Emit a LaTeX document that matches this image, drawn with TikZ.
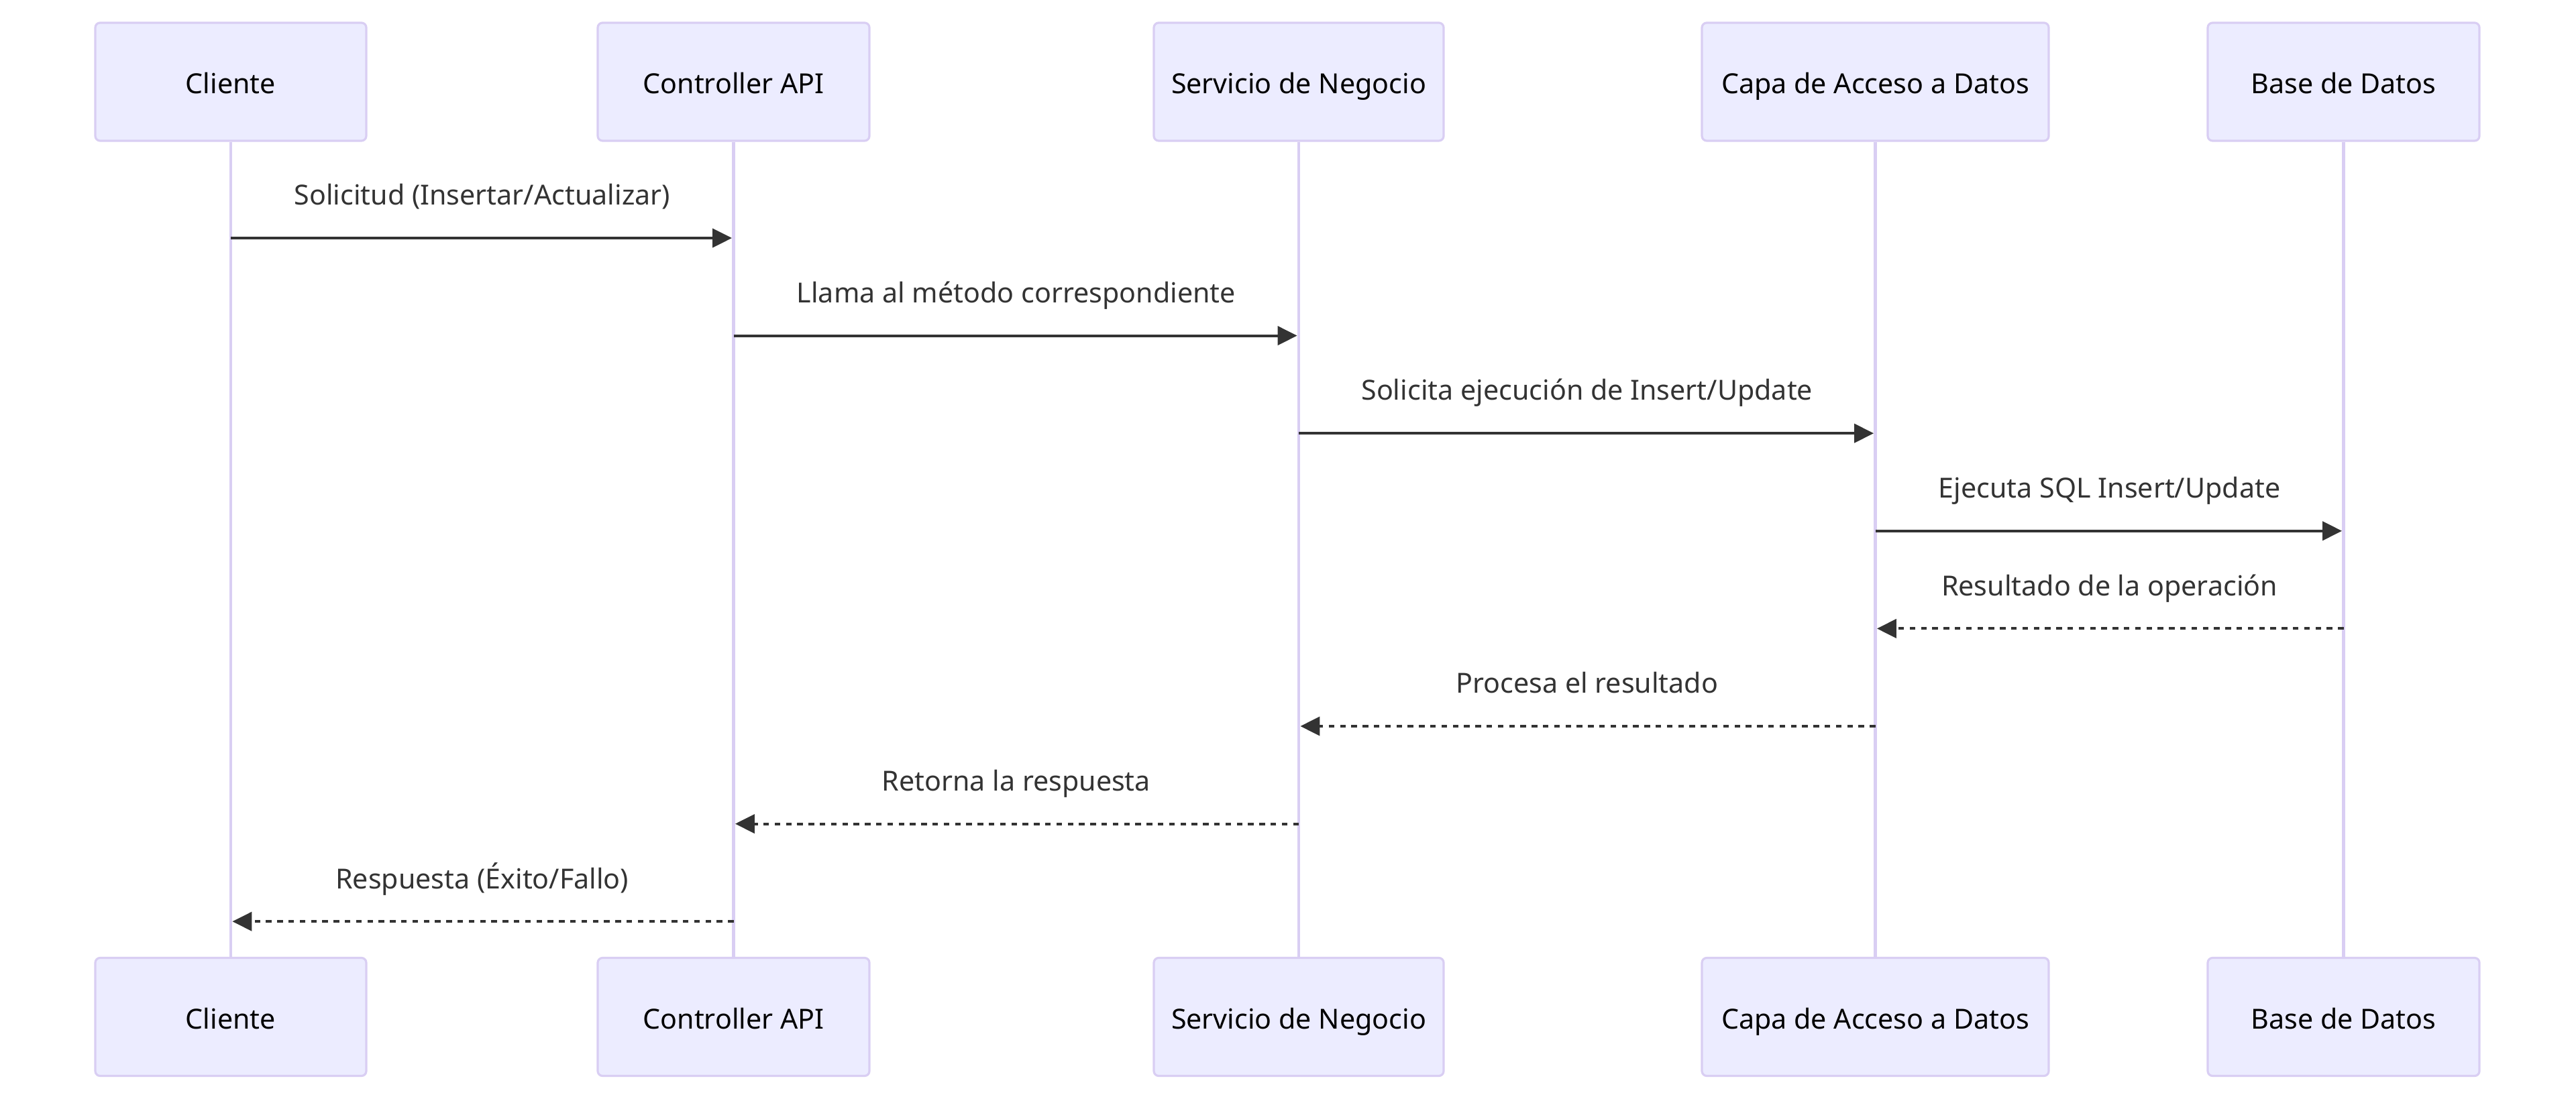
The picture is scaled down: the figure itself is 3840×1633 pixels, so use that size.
\documentclass[tikz,border=0pt]{standalone}
\usepackage{fontspec}
\setmainfont{Noto Sans}
\usetikzlibrary{arrows.meta}
\definecolor{actfill}{HTML}{ECECFF}
\definecolor{actline}{HTML}{D9CEF3}
\definecolor{msgcol}{HTML}{333333}
\begin{document}
\begin{tikzpicture}[x=0.25pt,y=-0.25pt,
    actor/.style={draw=actline, line width=0.8pt, fill=actfill, rounded corners=1.8pt,
      minimum height=44pt, inner sep=0pt, text height=9.5pt, text depth=0.5pt,
      font=\fontsize{10.3}{12}\selectfont},
    life/.style={draw=actline, line width=1.2pt},
    msg/.style={draw=msgcol, line width=1pt, -{Triangle[length=7.25pt,width=7pt]}, shorten >=0.6pt},
    reply/.style={msg, dash pattern=on 2.1pt off 2.1pt},
    lbl/.style={anchor=base, yshift=12.3pt, text=msgcol, font=\fontsize{10.3}{12}\selectfont}]
      \useasboundingbox (0,0) rectangle (3840,1633);

      % actors, top and bottom
      \node[actor, minimum width=101pt]    (cli1) at ( 344  ,  122  ) {Cliente};
      \node[actor, minimum width=101.25pt] (ctl1) at (1093.5,  122  ) {Controller API};
      \node[actor, minimum width=108pt]    (srv1) at (1936  ,  122  ) {Servicio de Negocio};
      \node[actor, minimum width=129.25pt] (dao1) at (2795.5,  122  ) {Capa de Acceso a Datos};
      \node[actor, minimum width=101.25pt] (bd1)  at (3493.5,  122  ) {Base de Datos};

      \node[actor, minimum width=101pt]    (cli2) at ( 344  , 1516.5) {Cliente};
      \node[actor, minimum width=101.25pt] (ctl2) at (1093.5, 1516.5) {Controller API};
      \node[actor, minimum width=108pt]    (srv2) at (1936  , 1516.5) {Servicio de Negocio};
      \node[actor, minimum width=129.25pt] (dao2) at (2795.5, 1516.5) {Capa de Acceso a Datos};
      \node[actor, minimum width=101.25pt] (bd2)  at (3493.5, 1516.5) {Base de Datos};

      % lifelines
      \draw[life] (cli1.south) -- (cli2.north);
      \draw[life] (ctl1.south) -- (ctl2.north);
      \draw[life] (srv1.south) -- (srv2.north);
      \draw[life] (dao1.south) -- (dao2.north);
      \draw[life] (bd1.south)  -- (bd2.north);

      \coordinate (m1) at (0, 355  );
      \coordinate (m2) at (0, 500.6);
      \coordinate (m3) at (0, 646.2);
      \coordinate (m4) at (0, 791.8);
      \coordinate (m5) at (0, 937.4);
      \coordinate (m6) at (0,1083  );
      \coordinate (m7) at (0,1228.6);
      \coordinate (m8) at (0,1374.2);

      % calls
      \draw[msg] (cli1 |- m1) -- (ctl1 |- m1) node[lbl, midway] {Solicitud (Insertar/Actualizar)};
      \draw[msg] (ctl1 |- m2) -- (srv1 |- m2) node[lbl, midway] {Llama al método correspondiente};
      \draw[msg] (srv1 |- m3) -- (dao1 |- m3) node[lbl, midway] {Solicita ejecución de Insert/Update};
      \draw[msg] (dao1 |- m4) -- (bd1  |- m4) node[lbl, midway] {Ejecuta SQL Insert/Update};

      % returns
      \draw[reply] (bd1  |- m5) -- (dao1 |- m5) node[lbl, midway] {Resultado de la operación};
      \draw[reply] (dao1 |- m6) -- (srv1 |- m6) node[lbl, midway] {Procesa el resultado};
      \draw[reply] (srv1 |- m7) -- (ctl1 |- m7) node[lbl, midway] {Retorna la respuesta};
      \draw[reply] (ctl1 |- m8) -- (cli1 |- m8) node[lbl, midway] {Respuesta (Éxito/Fallo)};
    \end{tikzpicture}
\end{document}
